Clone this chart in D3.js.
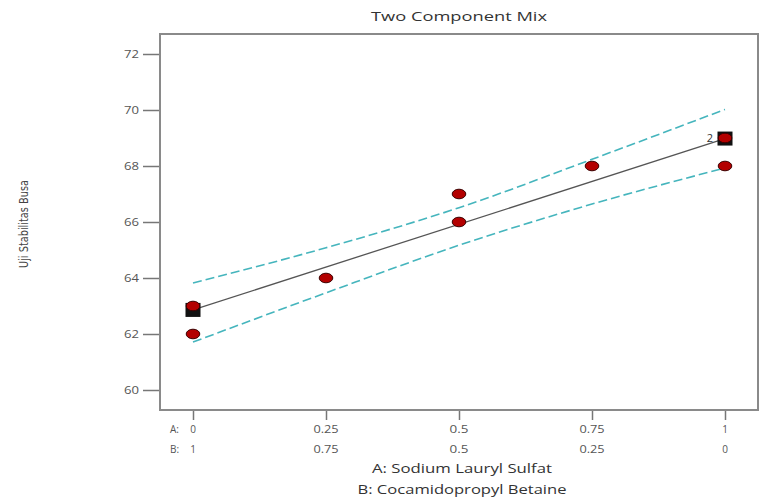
<!DOCTYPE html>
<html lang="en">
<head>
  <meta charset="UTF-8">
  <title>Two Component Mix</title>
  <style>
    body { margin: 0; background: #fff; }
    text { font-family: "Open Sans", "Noto Sans", sans-serif; }
  </style>
</head>
<body>
  <svg id="chart" width="783" height="499"></svg>

  <script src="https://d3js.org/d3.v7.min.js"></script>
  <script>
    // data
    const aTicks = [0, 0.25, 0.5, 0.75, 1];
    const aLabels = ["0", "0.25", "0.5", "0.75", "1"];
    const bLabels = ["1", "0.75", "0.5", "0.25", "0"];
    const yTicks = [60, 62, 64, 66, 68, 70, 72];

    const obsA = [0, 0, 0.25, 0.5, 0.5, 0.75, 1, 1];
    const obsY = [63, 62, 64, 67, 66, 68, 69, 68];

    const fitA = [0, 1];
    const fitY = [62.86, 68.98];

    const ciA = [0, 0.25, 0.5, 0.75, 1];
    const ciUpper = [63.82, 65.08, 66.51, 68.24, 70.02];
    const ciLower = [61.71, 63.47, 65.17, 66.64, 67.93];

    const svg = d3.select("#chart");

    const x = d3.scaleLinear().domain([0, 1]).range([193, 725]);
    const y = d3.scaleLinear().domain([60, 72]).range([390, 54]);

    const frame = { left: 160, right: 758, top: 34, bottom: 410 };

    // the reference looks stretched sideways, so texts get a fixed length
    function wideText(sel, len) {
      sel.attr("textLength", len).attr("lengthAdjust", "spacingAndGlyphs");
    }

    // title
    svg.append("text")
      .attr("x", 459).attr("y", 21)
      .attr("text-anchor", "middle")
      .attr("font-size", "13px")
      .attr("fill", "#333")
      .text("Two Component Mix")
      .call(wideText, 176);

    // y axis ticks
    const yAxis = svg.append("g").attr("transform", `translate(${frame.left},0)`)
      .call(d3.axisLeft(y).tickValues(yTicks).tickSize(17).tickPadding(4).tickFormat(d3.format("d")));
    yAxis.select(".domain").remove();
    yAxis.selectAll("line").attr("stroke", "#777").attr("stroke-width", 1.5);
    yAxis.selectAll("text").attr("font-size", "11px").attr("fill", "#555")
      .style("font-family", "'Open Sans', sans-serif")
      .call(wideText, 15);

    // x axis ticks
    const xAxis = svg.append("g").attr("transform", `translate(0,${frame.bottom})`)
      .call(d3.axisBottom(x).tickValues(aTicks).tickSize(10).tickFormat(""));
    xAxis.select(".domain").remove();
    xAxis.selectAll("line").attr("stroke", "#777").attr("stroke-width", 1.5);

    const tickRows = svg.append("g").attr("font-size", "10px").attr("fill", "#555");
    tickRows.selectAll("text.a")
      .data(aTicks)
      .join("text")
      .attr("class", "a")
      .attr("x", d => x(d)).attr("y", 433)
      .attr("text-anchor", "middle")
      .text((d, i) => aLabels[i])
      .each(function () {
        const n = this.textContent.length;
        if (n > 1) d3.select(this).call(wideText, n * 6.3);
      });
    tickRows.selectAll("text.b")
      .data(aTicks)
      .join("text")
      .attr("class", "b")
      .attr("x", d => x(d)).attr("y", 453)
      .attr("text-anchor", "middle")
      .text((d, i) => bLabels[i])
      .each(function () {
        const n = this.textContent.length;
        if (n > 1) d3.select(this).call(wideText, n * 6.3);
      });
    tickRows.append("text").attr("x", 170).attr("y", 433).text("A:");
    tickRows.append("text").attr("x", 170).attr("y", 453).text("B:");

    // axis titles
    svg.append("text")
      .attr("x", 462).attr("y", 473)
      .attr("text-anchor", "middle")
      .attr("font-size", "13px").attr("fill", "#333")
      .text("A: Sodium Lauryl Sulfat")
      .call(wideText, 180);
    svg.append("text")
      .attr("x", 462).attr("y", 494)
      .attr("text-anchor", "middle")
      .attr("font-size", "13px").attr("fill", "#333")
      .text("B: Cocamidopropyl Betaine")
      .call(wideText, 209);
    svg.append("text")
      .attr("transform", "translate(28,224) rotate(-90)")
      .attr("text-anchor", "middle")
      .attr("font-size", "12px").attr("fill", "#444")
      .style("font-family", "'Liberation Sans Narrow', 'DejaVu Sans Condensed', sans-serif")
      .text("Uji Stabilitas Busa")
      .call(wideText, 88);

    // plot frame
    svg.append("rect")
      .attr("x", frame.left).attr("y", frame.top)
      .attr("width", frame.right - frame.left)
      .attr("height", frame.bottom - frame.top)
      .attr("fill", "none")
      .attr("stroke", "#8a8a8a")
      .attr("stroke-width", 2);

    // confidence bands
    const band = d3.line()
      .x(d => x(d[0]))
      .y(d => y(d[1]))
      .curve(d3.curveMonotoneX);
    [ciUpper, ciLower].forEach(vals => {
      svg.append("path")
        .attr("d", band(ciA.map((a, i) => [a, vals[i]])))
        .attr("fill", "none")
        .attr("stroke", "#45b5bd")
        .attr("stroke-width", 1.6)
        .attr("stroke-dasharray", "9,4");
    });

    // fitted line
    svg.append("path")
      .attr("d", d3.line().x(d => x(d[0])).y(d => y(d[1]))(fitA.map((a, i) => [a, fitY[i]])))
      .attr("fill", "none")
      .attr("stroke", "#555")
      .attr("stroke-width", 1.3);

    // design point squares at ends of fit
    svg.selectAll("rect.sq")
      .data(fitA)
      .join("rect")
      .attr("class", "sq")
      .attr("x", d => x(d) - 7.5)
      .attr("y", (d, i) => y(fitY[i]) - 7)
      .attr("width", 15).attr("height", 14)
      .attr("fill", "#111");

    // observed points
    svg.selectAll("ellipse.pt")
      .data(obsA)
      .join("ellipse")
      .attr("class", "pt")
      .attr("cx", d => x(d))
      .attr("cy", (d, i) => y(obsY[i]))
      .attr("rx", 6.8).attr("ry", 4.8)
      .attr("fill", "#b30000")
      .attr("stroke", "#3a0000")
      .attr("stroke-width", 1);

    // replicate label
    svg.append("text")
      .attr("x", x(1) - 12).attr("y", y(69) + 4)
      .attr("text-anchor", "end")
      .attr("font-size", "11px").attr("fill", "#333")
      .text("2");
  </script>
</body>
</html>
